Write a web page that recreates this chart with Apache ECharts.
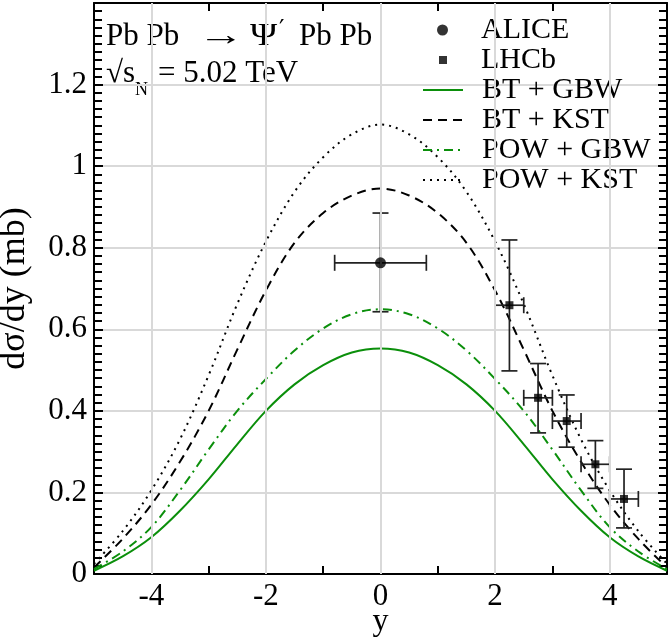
<!DOCTYPE html>
<html>
<head>
<meta charset="utf-8">
<title>Pb Pb -> Psi' Pb Pb</title>
<script src="https://cdn.jsdelivr.net/npm/echarts@6/dist/echarts.min.js"></script>
<style>
  html, body { margin: 0; padding: 0; background: #fff; }
  #chart { width: 669px; height: 641px; }
</style>
</head>
<body>
<div id="chart"></div>
<script>
// rapidity grid of the model curves
const rapidity = [-5, -4.5, -4, -3.5, -3, -2.5, -2, -1.5, -1, -0.5, 0, 0.5, 1, 1.5, 2, 2.5, 3, 3.5, 4, 4.5, 5];
const btGbw  = [0.008, 0.043, 0.090, 0.155, 0.232, 0.318, 0.400, 0.465, 0.512, 0.543, 0.553, 0.543, 0.512, 0.465, 0.400, 0.318, 0.232, 0.155, 0.090, 0.043, 0.008];
const btKst  = [0.016, 0.086, 0.170, 0.275, 0.400, 0.550, 0.695, 0.812, 0.885, 0.928, 0.945, 0.928, 0.885, 0.812, 0.695, 0.550, 0.400, 0.275, 0.170, 0.086, 0.016];
const powGbw = [0.012, 0.055, 0.115, 0.205, 0.305, 0.400, 0.478, 0.548, 0.602, 0.637, 0.649, 0.637, 0.602, 0.548, 0.478, 0.400, 0.305, 0.205, 0.115, 0.055, 0.012];
const powKst = [0.025, 0.105, 0.205, 0.330, 0.487, 0.662, 0.815, 0.937, 1.022, 1.078, 1.102, 1.078, 1.022, 0.937, 0.815, 0.662, 0.487, 0.330, 0.205, 0.105, 0.025];

// data points
const aliceX = [0];
const aliceY = [0.763];
const aliceXErr = [0.8];
const aliceYLow = [0.643];
const aliceYHigh = [0.885];

const lhcbX = [2.25, 2.75, 3.25, 3.75, 4.25];
const lhcbY = [0.659, 0.432, 0.375, 0.269, 0.184];
const lhcbXErr = [0.25, 0.25, 0.25, 0.25, 0.25];
const lhcbYLow = [0.498, 0.346, 0.311, 0.210, 0.113];
const lhcbYHigh = [0.819, 0.516, 0.439, 0.327, 0.257];

// ticks
const xLabels = [-4, -2, 0, 2, 4];
const xTicks = [-3, -1, 1, 3];

const FONT = 'Liberation Serif';
const GREEN = '#0b8f0b';

function pairs(xs, ys) {
  return xs.map(function (x, i) { return [x, ys[i]]; });
}

function errRows(xs, ys, xe, lo, hi) {
  return xs.map(function (x, i) { return [x, ys[i], x - xe[i], x + xe[i], lo[i], hi[i]]; });
}

function errorBars(params, api) {
  const x = api.value(0), y = api.value(1);
  const c = api.coord([x, y]);
  const l = api.coord([api.value(2), y]);
  const r = api.coord([api.value(3), y]);
  const lo = api.coord([x, api.value(4)]);
  const hi = api.coord([x, api.value(5)]);
  const cap = 8;
  const st = { stroke: '#222', lineWidth: 1.7 };
  const seg = function (x1, y1, x2, y2) {
    return { type: 'line', shape: { x1: x1, y1: y1, x2: x2, y2: y2 }, style: st };
  };
  return {
    type: 'group',
    children: [
      seg(l[0], c[1], r[0], c[1]),
      seg(c[0], lo[1], c[0], hi[1]),
      seg(l[0], c[1] - cap, l[0], c[1] + cap),
      seg(r[0], c[1] - cap, r[0], c[1] + cap),
      seg(c[0] - cap, lo[1], c[0] + cap, lo[1]),
      seg(c[0] - cap, hi[1], c[0] + cap, hi[1])
    ]
  };
}

const chart = echarts.init(document.getElementById('chart'));

const frameX = {
  type: 'value', min: -5, max: 5, interval: 1,
  axisLine: { show: true, onZero: false, lineStyle: { color: '#000', width: 2 } },
  axisTick: { show: true, inside: true, length: 8, customValues: xTicks, lineStyle: { color: '#000', width: 2 } },
  splitLine: { show: false }
};
const frameY = {
  type: 'value', min: 0, max: 1.4, interval: 0.2,
  axisLine: { show: true, onZero: false, lineStyle: { color: '#000', width: 2 } },
  axisTick: { show: true, inside: true, length: 9, lineStyle: { color: '#000', width: 2 } },
  minorTick: { show: true, splitNumber: 10, length: 8, lineStyle: { color: '#000', width: 2 } }
};

const legendText = function (pad) {
  return { fontFamily: FONT, fontSize: 30, color: '#000', lineHeight: 30, padding: [0, 0, 0, pad] };
};
const noDot = { opacity: 0 };

const option = {
  animation: false,
  textStyle: { fontFamily: FONT },
  grid: { left: 94, right: 2, top: 3, bottom: 67, outerBoundsMode: 'none', containLabel: false },
  xAxis: [
    Object.assign({}, frameX, {
      position: 'bottom',
      name: 'y', nameLocation: 'middle', nameGap: 32, nameMoveOverlap: false,
      nameTextStyle: { fontFamily: FONT, fontSize: 32, color: '#000' },
      axisLabel: { show: true, customValues: xLabels, margin: 7, fontFamily: FONT, fontSize: 31, color: '#000' }
    }),
    Object.assign({}, frameX, {
      position: 'top',
      axisLabel: { show: false }
    })
  ],
  yAxis: [
    Object.assign({}, frameY, {
      position: 'left',
      name: 'dσ/dy (mb)', nameLocation: 'middle', nameGap: 61, nameMoveOverlap: false,
      nameTextStyle: { fontFamily: FONT, fontSize: 36, color: '#000' },
      axisLabel: {
        margin: 7, fontFamily: FONT, fontSize: 31, color: '#000',
        formatter: function (v) { return v > 1.3 ? '' : String(+v.toFixed(1)); }
      },
      splitLine: { show: true, lineStyle: { color: '#d9d9d9', width: 2 } }
    }),
    Object.assign({}, frameY, {
      position: 'right',
      axisLabel: { show: false },
      splitLine: { show: false }
    })
  ],
  legend: [
    {
      data: ['ALICE'],
      orient: 'vertical', left: 437, top: 15, padding: 0, itemGap: 0,
      itemWidth: 11, itemHeight: 11,
      textStyle: legendText(28)
    },
    {
      data: ['LHCb'],
      orient: 'vertical', left: 439, top: 45, padding: 0, itemGap: 0,
      itemWidth: 8, itemHeight: 8,
      textStyle: legendText(29)
    },
    {
      data: [
        { name: 'BT + GBW', itemStyle: noDot },
        { name: 'BT + KST', itemStyle: noDot },
        { name: 'POW + GBW', itemStyle: noDot },
        { name: 'POW + KST', itemStyle: noDot }
      ],
      orient: 'vertical', left: 422, top: 75, padding: 0, itemGap: 0,
      itemWidth: 40, itemHeight: 8,
      textStyle: legendText(14)
    }
  ],
  graphic: [
    { type: 'text', left: 106, top: 21, style: { text: 'Pb Pb', font: '31px "Liberation Serif"', fill: '#000' } },
    { type: 'text', left: 198, top: 21, scaleX: 1.5, style: { text: '\u2192', font: '31px "Liberation Serif"', fill: '#000' } },
    { type: 'text', left: 250, top: 21, scaleX: 1.15, style: { text: '\u03a8', font: '32px "Liberation Serif"', fill: '#000' } },
    { type: 'text', left: 279, top: 19, style: { text: '\u2032', font: '24px "DejaVu Serif"', fill: '#000' } },
    { type: 'text', left: 299, top: 21, style: { text: 'Pb Pb', font: '31px "Liberation Serif"', fill: '#000' } },
    { type: 'text', left: 106, top: 58, style: { text: '\u221as', font: '31px "Liberation Serif"', fill: '#000' } },
    { type: 'text', left: 135, top: 81, style: { text: 'N', font: '18px "Liberation Serif"', fill: '#000' } },
    { type: 'text', left: 158, top: 58, style: { text: '= 5.02 TeV', font: '31px "Liberation Serif"', fill: '#000' } }
  ],
  series: [
    {
      // vertical grid lines at the labelled rapidities
      name: 'grid', type: 'line', data: [], z: 1, silent: true,
      markLine: {
        silent: true, symbol: 'none', animation: false,
        label: { show: false },
        lineStyle: { color: '#d9d9d9', width: 2, type: 'solid' },
        data: xLabels.map(function (v) { return { xAxis: v }; })
      }
    },
    {
      name: 'BT + GBW', type: 'line', data: pairs(rapidity, btGbw), smooth: 0.35,
      showSymbol: false, symbol: 'none', z: 3,
      lineStyle: { color: GREEN, width: 2, type: 'solid' }, itemStyle: { color: GREEN }
    },
    {
      name: 'BT + KST', type: 'line', data: pairs(rapidity, btKst), smooth: 0.35,
      showSymbol: false, symbol: 'none', z: 3,
      lineStyle: { color: '#000', width: 2, type: [9, 6] }, itemStyle: { color: '#000' }
    },
    {
      name: 'POW + GBW', type: 'line', data: pairs(rapidity, powGbw), smooth: 0.35,
      showSymbol: false, symbol: 'none', z: 3,
      lineStyle: { color: GREEN, width: 2, type: [9, 5, 2, 5] }, itemStyle: { color: GREEN }
    },
    {
      name: 'POW + KST', type: 'line', data: pairs(rapidity, powKst), smooth: 0.35,
      showSymbol: false, symbol: 'none', z: 3,
      lineStyle: { color: '#000', width: 2, type: [2, 5] }, itemStyle: { color: '#000' }
    },
    {
      name: 'aliceErr', type: 'custom', renderItem: errorBars, z: 4,
      data: errRows(aliceX, aliceY, aliceXErr, aliceYLow, aliceYHigh)
    },
    {
      name: 'lhcbErr', type: 'custom', renderItem: errorBars, z: 4,
      data: errRows(lhcbX, lhcbY, lhcbXErr, lhcbYLow, lhcbYHigh)
    },
    {
      name: 'ALICE', type: 'scatter', symbol: 'circle', symbolSize: 11, z: 5,
      itemStyle: { color: '#000' }, data: pairs(aliceX, aliceY)
    },
    {
      name: 'LHCb', type: 'scatter', symbol: 'rect', symbolSize: 8, z: 5,
      itemStyle: { color: '#000' }, data: pairs(lhcbX, lhcbY)
    }
  ]
};

chart.setOption(option);
</script>
</body>
</html>
